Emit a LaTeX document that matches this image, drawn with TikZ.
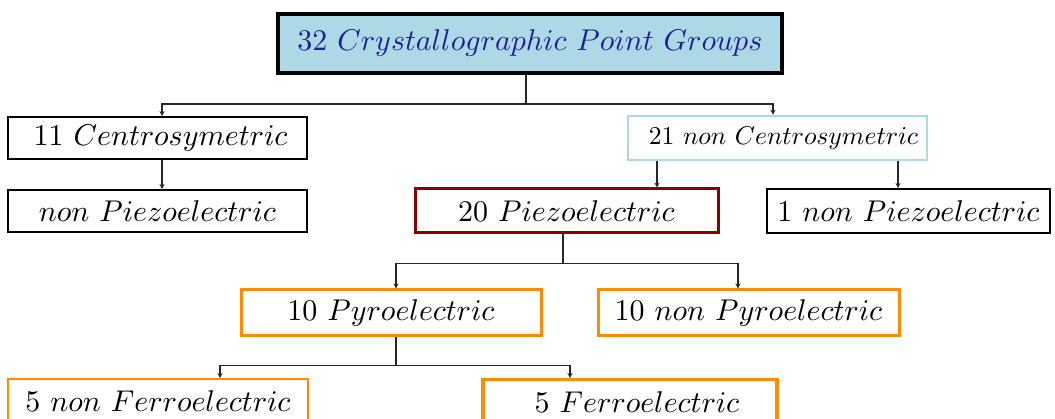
\documentclass[tikz,border=0pt]{standalone}
\usepackage{graphicx}
\usetikzlibrary{arrows.meta}
\definecolor{lblue}{RGB}{173,216,230}
\definecolor{tblue}{RGB}{30,30,150}
\definecolor{dred}{RGB}{139,0,0}
\definecolor{orng}{RGB}{255,140,0}
\newcommand{\bigtxt}[1]{\scalebox{3.0}{$#1$}}
\newcommand{\midtxt}[1]{\scalebox{2.57}{$#1$}}
\begin{document}
\begin{tikzpicture}[x=1pt,y=-1pt,
  box/.style={draw, rectangle, inner sep=0pt},
  link/.style={line width=1.8pt, draw=black!85},
  arr/.style={link, -{Stealth[length=5pt,width=5pt]}}]
\useasboundingbox (0,0) rectangle (1055,419);
\node[box, fill=lblue, line width=3.5pt, minimum width=504pt, minimum height=59pt, text=tblue] (top) at (530,43.5) {\bigtxt{32\ Crystallographic\ Point\ Groups}};
\node[box, line width=2pt, minimum width=299pt, minimum height=42pt] (c11) at (157.5,138) {\hspace*{6pt}\bigtxt{11\ Centrosymetric}};
\node[box, line width=2pt, minimum width=299pt, minimum height=42pt] (np1) at (157.5,211) {\bigtxt{non\ Piezoelectric}};
\node[box, draw=lblue, line width=2.5pt, minimum width=299pt, minimum height=44pt] (nc21) at (777.5,138) {\hspace*{12pt}\midtxt{21\ non\ Centrosymetric}};
\node[box, draw=dred, line width=3pt, minimum width=303pt, minimum height=44pt] (pz20) at (566.5,211) {\bigtxt{20\ Piezoelectric}};
\node[box, line width=2pt, minimum width=283pt, minimum height=44pt] (np1b) at (908.5,211) {\bigtxt{1\ non\ Piezoelectric}};
\node[box, draw=orng, line width=3pt, minimum width=300pt, minimum height=46pt] (py10) at (391,313) {\bigtxt{10\ Pyroelectric}};
\node[box, draw=orng, line width=3pt, minimum width=301pt, minimum height=46pt] (npy10) at (748.5,313) {\bigtxt{10\ non\ Pyroelectric}};
\node[box, draw=orng, line width=2pt, minimum width=300pt, minimum height=44pt, anchor=north] (nf5) at (158,378) {\bigtxt{5\ non\ Ferroelectric}};
\node[box, draw=orng, line width=3.5pt, minimum width=294pt, minimum height=44pt, anchor=north] (f5) at (630,378) {\hspace*{14pt}\bigtxt{5\ Ferroelectric}};
% connectors
\coordinate (j1) at ([xshift=-4pt,yshift=-29pt]top.south);
\draw[link] ([xshift=-4pt]top.south) -- (j1);
\draw[arr] (j1) -| ([xshift=4.5pt]c11.north);
\draw[arr] (j1) -| ([xshift=-4.5pt]nc21.north);
\draw[arr] ([xshift=4.5pt]c11.south) -- ([xshift=4.5pt]np1.north);
\draw[arr] ([xshift=-120.5pt]nc21.south) -- ([xshift=90.5pt]pz20.north);
\draw[arr] ([xshift=120.5pt]nc21.south) -- ([xshift=-10.5pt]np1b.north);
\coordinate (j2) at ([xshift=-3.5pt,yshift=-29pt]pz20.south);
\draw[link] ([xshift=-3.5pt]pz20.south) -- (j2);
\draw[arr] (j2) -| ([xshift=5pt]py10.north);
\draw[arr] (j2) -| ([xshift=-10.5pt]npy10.north);
\coordinate (j3) at ([xshift=5pt,yshift=-28pt]py10.south);
\draw[link] ([xshift=5pt]py10.south) -- (j3);
\draw[arr] (j3) -| ([xshift=62pt]nf5.north);
\draw[arr] (j3) -| ([xshift=-60pt]f5.north);
\end{tikzpicture}
\end{document}
